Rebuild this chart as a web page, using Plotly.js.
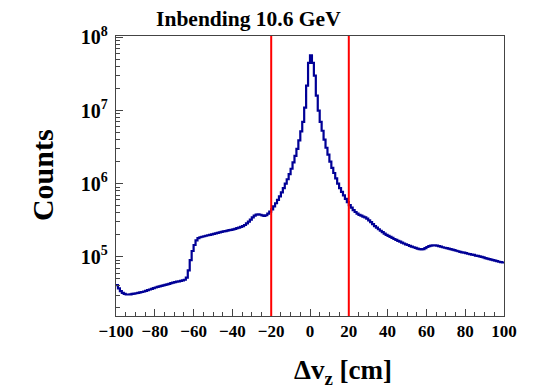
<!DOCTYPE html>
<html>
<head>
<meta charset="utf-8">
<script src="https://cdn.plot.ly/plotly-3.0.1.min.js"></script>
<style>html,body{margin:0;padding:0;background:#fff;}#chart{width:533px;height:387px;}</style>
</head>
<body>
<div id="chart"></div>
<script>
// Histogram: 200 bins of 1 cm from -100 to 100 (value = counts in bin starting at binLow + i)
const binLow = -100;
const binHigh = 100;
const counts = [
  // -100 .. -91
  4.1e4, 3.7e4, 3.4e4, 3.2e4, 3.1e4, 3.05e4, 3.05e4, 3.07e4, 3.1e4, 3.13e4,
  // -90 .. -81
  3.17e4, 3.2e4, 3.25e4, 3.3e4, 3.35e4, 3.42e4, 3.5e4, 3.57e4, 3.64e4, 3.72e4,
  // -80 .. -71
  3.8e4, 3.87e4, 3.94e4, 4.0e4, 4.07e4, 4.14e4, 4.2e4, 4.27e4, 4.35e4, 4.43e4,
  // -70 .. -61
  4.5e4, 4.56e4, 4.62e4, 4.68e4, 4.75e4, 4.85e4, 5.2e4, 6.5e4, 9.0e4, 1.2e5,
  // -60 .. -51
  1.45e5, 1.68e5, 1.8e5, 1.85e5, 1.88e5, 1.91e5, 1.94e5, 1.97e5, 2.0e5, 2.03e5,
  // -50 .. -41
  2.06e5, 2.09e5, 2.13e5, 2.16e5, 2.19e5, 2.22e5, 2.25e5, 2.28e5, 2.31e5, 2.34e5,
  // -40 .. -31
  2.37e5, 2.41e5, 2.46e5, 2.51e5, 2.56e5, 2.62e5, 2.72e5, 2.86e5, 3.03e5, 3.22e5,
  // -30 .. -21
  3.45e5, 3.65e5, 3.78e5, 3.8e5, 3.76e5, 3.68e5, 3.63e5, 3.7e5, 3.9e5, 4.15e5,
  // -20 .. -11
  4.45e5, 4.9e5, 5.4e5, 6.0e5, 6.7e5, 7.6e5, 8.7e5, 1.0e6, 1.15e6, 1.35e6,
  // -10 .. -1
  1.6e6, 1.95e6, 2.4e6, 3.0e6, 3.9e6, 5.2e6, 7.0e6, 1.1e7, 2.2e7, 4.5e7,
  // 0 .. 9
  5.7e7, 4.5e7, 3.0e7, 1.6e7, 1.0e7, 7.0e6, 5.3e6, 4.0e6, 3.1e6, 2.5e6,
  // 10 .. 19
  2.0e6, 1.65e6, 1.4e6, 1.18e6, 1.0e6, 8.7e5, 7.7e5, 6.9e5, 6.2e5, 5.6e5,
  // 20 .. 29
  5.1e5, 4.7e5, 4.35e5, 4.1e5, 3.9e5, 3.75e5, 3.65e5, 3.55e5, 3.45e5, 3.32e5,
  // 30 .. 39
  3.15e5, 2.97e5, 2.8e5, 2.63e5, 2.5e5, 2.38e5, 2.27e5, 2.17e5, 2.08e5, 2.0e5,
  // 40 .. 49
  1.93e5, 1.87e5, 1.81e5, 1.75e5, 1.7e5, 1.65e5, 1.61e5, 1.56e5, 1.52e5, 1.48e5,
  // 50 .. 59
  1.45e5, 1.41e5, 1.38e5, 1.35e5, 1.32e5, 1.29e5, 1.27e5, 1.26e5, 1.27e5, 1.31e5,
  // 60 .. 69
  1.36e5, 1.4e5, 1.42e5, 1.43e5, 1.43e5, 1.42e5, 1.4e5, 1.38e5, 1.35e5, 1.33e5,
  // 70 .. 79
  1.31e5, 1.29e5, 1.27e5, 1.25e5, 1.23e5, 1.21e5, 1.19e5, 1.17e5, 1.15e5, 1.14e5,
  // 80 .. 89
  1.12e5, 1.1e5, 1.09e5, 1.07e5, 1.06e5, 1.04e5, 1.03e5, 1.01e5, 9.95e4, 9.8e4,
  // 90 .. 99
  9.6e4, 9.45e4, 9.3e4, 9.15e4, 9.0e4, 8.85e4, 8.7e4, 8.55e4, 8.45e4, 8.35e4
];
const cutLow = -20;
const cutHigh = 20;
const titleText = "Inbending 10.6 GeV";
const xTitle = "Δv<sub>z</sub> [cm]";
const yTitle = "Counts";
const xTickVals = [-100, -80, -60, -40, -20, 0, 20, 40, 60, 80, 100];
const xTickText = ["\u2212100", "\u221280", "\u221260", "\u221240", "\u221220", "0", "20", "40", "60", "80", "100"];

// step outline from bin edges
const nb = counts.length;
const w = (binHigh - binLow) / nb;
const xs = [], ys = [];
for (let i = 0; i < nb; i++) { xs.push(binLow + i * w); ys.push(counts[i]); }
xs.push(binHigh); ys.push(counts[nb - 1]);

const font = "Liberation Serif, Times New Roman, serif";

const traces = [{
  type: "scatter", mode: "lines", x: xs, y: ys,
  line: {shape: "hv", color: "#000096", width: 2.2},
  hoverinfo: "skip", showlegend: false
}];

const layout = {
  width: 533, height: 387,
  margin: {l: 116, r: 29, t: 36, b: 71},
  paper_bgcolor: "#ffffff", plot_bgcolor: "#ffffff",
  showlegend: false,
  title: {text: "<b>" + titleText + "</b>", font: {family: font, size: 21.5, color: "#000"},
          x: 0.466, xanchor: "center", xref: "container", y: 0.953, yanchor: "middle", yref: "container"},
  xaxis: {
    range: [binLow, binHigh], showgrid: false, zeroline: false,
    showline: true, linecolor: "#444", linewidth: 1, mirror: true,
    ticks: "inside", ticklen: 7, tickcolor: "#444", tickwidth: 1,
    tickmode: "array", tickvals: xTickVals, ticktext: xTickText,
    tickfont: {family: font, size: 17, color: "#000", weight: "bold"},
    minor: {ticks: "inside", ticklen: 4, dtick: 5, tick0: 0, tickcolor: "#444", showgrid: false}
  },
  yaxis: {
    type: "log", range: [4.19, 8.02], showgrid: false, zeroline: false,
    showline: true, linecolor: "#444", linewidth: 1, mirror: true,
    ticks: "inside", ticklen: 7, tickcolor: "#444", tickwidth: 1,
    dtick: 1, exponentformat: "power", ticklabelstandoff: 4,
    tickfont: {family: font, size: 16, color: "#000", weight: "bold"},
    minor: {ticks: "inside", ticklen: 4, dtick: "D1", tickcolor: "#444", showgrid: false}
  },
  shapes: [
    {type: "line", xref: "x", yref: "paper", x0: cutLow, x1: cutLow, y0: 0, y1: 1, line: {color: "#ff0000", width: 2}},
    {type: "line", xref: "x", yref: "paper", x0: cutHigh, x1: cutHigh, y0: 0, y1: 1, line: {color: "#ff0000", width: 2}}
  ],
  annotations: [
    {text: "<b>" + yTitle + "</b>", xref: "paper", yref: "paper", x: -0.188, y: 0.5036,
     xanchor: "center", yanchor: "middle", textangle: -90, showarrow: false,
     font: {family: font, size: 30, color: "#000"}},
    {text: "<b>" + xTitle + "</b>", xref: "paper", yref: "paper", x: 0.586, y: -0.2,
     xanchor: "center", yanchor: "middle", showarrow: false,
     font: {family: font, size: 27, color: "#000"}}
  ]
};

Plotly.newPlot("chart", traces, layout, {staticPlot: true, displayModeBar: false});
</script>
</body>
</html>
